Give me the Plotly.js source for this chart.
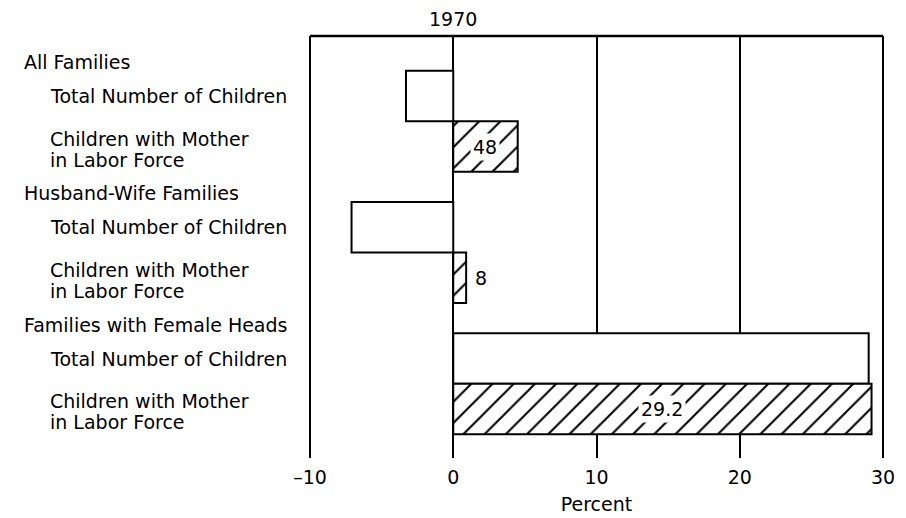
<!DOCTYPE html>
<html>
<head>
<meta charset="utf-8">
<script src="https://cdn.plot.ly/plotly-3.0.1.min.js"></script>
<style>
html,body{margin:0;padding:0;background:#fff;}
#chart{width:906px;height:518px;}
</style>
</head>
<body>
<div id="chart"></div>
<script>
// ---- data ----
const groups = ["All Families", "Husband-Wife Families", "Families with Female Heads"];
const subLabels = ["Total Number of Children", "Children with Mother<br>in Labor Force"];
const totalChildren = [-3.3, -7.1, 29.0];
const motherInLabor = [4.5, 0.9, 29.2];
const motherLabels = ["48", "8", "29.2"];
const xTickVals = [-10, 0, 10, 20, 30];
const xTickText = ["\u201310", "0", "10", "20", "30"];
const topLabel = "1970";
const xTitle = "Percent";

// ---- layout helpers ----
const groupStep = 2.6;     // rows per group (two bars + gap)
const headerOffset = -0.67;
const FONT = "DejaVu Sans, sans-serif";
const fontSize = 19;

const yTotal = groups.map((g, i) => i * groupStep);
const yMother = groups.map((g, i) => i * groupStep + 1);

const traces = [
  {
    type: "bar", orientation: "h",
    x: totalChildren, y: yTotal, width: 1,
    marker: {color: "white", line: {color: "black", width: 2}},
    hoverinfo: "skip", showlegend: false
  },
  {
    type: "bar", orientation: "h",
    x: motherInLabor, y: yMother, width: 1,
    marker: {
      color: "white",
      line: {color: "black", width: 2},
      pattern: {shape: "/", fgcolor: "black", bgcolor: "white", size: 15, solidity: 0.14}
    },
    hoverinfo: "skip", showlegend: false
  }
];

const annotations = [];
const tf = {family: FONT, size: fontSize, color: "black"};
const motherLines = subLabels[1].split("<br>");
groups.forEach((g, i) => {
  annotations.push({xref: "paper", yref: "y", x: 0, xshift: -288, y: i * groupStep + headerOffset,
    xanchor: "left", yanchor: "middle", text: g, showarrow: false, align: "left", font: tf});
  annotations.push({xref: "paper", yref: "y", x: 0, xshift: -262, y: yTotal[i],
    xanchor: "left", yanchor: "middle", text: subLabels[0], showarrow: false, align: "left", font: tf});
  motherLines.forEach((line, k) => {
    annotations.push({xref: "paper", yref: "y", x: 0, xshift: -262, y: yMother[i],
      yshift: k === 0 ? 8 : -13,
      xanchor: "left", yanchor: "middle", text: line, showarrow: false, align: "left", font: tf});
  });
  const v = motherInLabor[i];
  if (Math.abs(v) > 2) {
    annotations.push({xref: "x", yref: "y", x: v / 2, y: yMother[i], text: motherLabels[i],
      showarrow: false, xanchor: "center", yanchor: "middle", bgcolor: "white", borderpad: 2, font: tf});
  } else {
    annotations.push({xref: "x", yref: "y", x: v, xshift: 7, y: yMother[i], text: motherLabels[i],
      showarrow: false, xanchor: "left", yanchor: "middle", font: tf});
  }
});
annotations.push({xref: "x", yref: "paper", x: 0, y: 1, yshift: 4, xanchor: "center", yanchor: "bottom",
  text: topLabel, showarrow: false, font: tf});

const shapes = [
  {type: "line", xref: "paper", yref: "paper", x0: 0, x1: 1, y0: 1, y1: 1, line: {color: "black", width: 2.5}},
  {type: "line", xref: "paper", yref: "paper", x0: 0, x1: 0, y0: 0, y1: 1, line: {color: "black", width: 2}},
  {type: "line", xref: "paper", yref: "paper", x0: 1, x1: 1, y0: 0, y1: 1, line: {color: "black", width: 2}}
];

const layout = {
  width: 906, height: 518,
  margin: {l: 310, r: 23, t: 36, b: 60},
  paper_bgcolor: "white", plot_bgcolor: "white",
  font: tf,
  bargap: 0,
  xaxis: {
    range: [-10, 30], tickvals: xTickVals, ticktext: xTickText,
    showgrid: true, gridcolor: "black", gridwidth: 2,
    zeroline: true, zerolinecolor: "black", zerolinewidth: 2,
    showline: false, ticks: "", tickfont: tf, ticklabelstandoff: 6,
    title: {text: xTitle, font: tf, standoff: 10}
  },
  yaxis: {
    range: [7.17, -1.19], showticklabels: false, showgrid: false, zeroline: false, showline: false, ticks: ""
  },
  annotations: annotations,
  shapes: shapes
};

Plotly.newPlot("chart", traces, layout, {displayModeBar: false, staticPlot: true});
</script>
</body>
</html>
